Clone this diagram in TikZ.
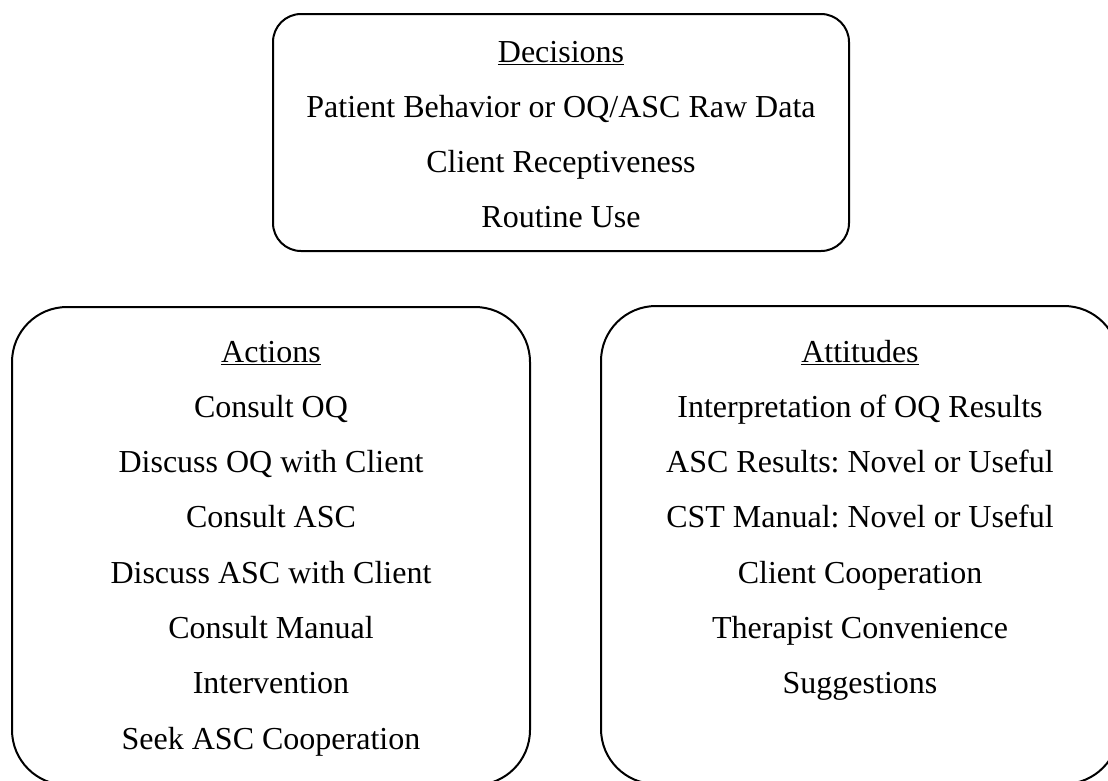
\documentclass[tikz,border=0pt]{standalone}
\usepackage{fontspec}
\setmainfont{Liberation Serif}
\frenchspacing
\begin{document}
\begin{tikzpicture}[x=1pt,y=-1pt,
  panel/.style={draw, line width=2pt, inner sep=0pt},
  toppanel/.style={panel, rounded corners=28pt, minimum width=576pt, minimum height=237pt},
  lowpanel/.style={panel, rounded corners=55pt, minimum width=518pt, minimum height=478pt},
  entry/.style={anchor=base, inner sep=0pt, font=\fontsize{32}{38}\selectfont}]
\useasboundingbox (0,0) rectangle (1108,780);
\clip (0,0) rectangle (1108,780);

% frames
\node[toppanel] (decbox) at (561,132.5) {};
\node[lowpanel] (actbox) at (271,546) {};
\node[lowpanel] (attbox) at (860,545) {};

% decisions
\node[entry] (dechead) at (561,62) {\underline{Decisions}};
\node[entry] (dec1) at (561,117) {Patient Behavior or OQ/ASC Raw Data};
\node[entry] (dec2) at (561,172) {Client Receptiveness};
\node[entry] (dec3) at (561,227) {Routine Use};

% actions
\node[entry] (acthead) at (271,362) {\underline{Actions}};
\node[entry] (act1) at (271,417.3) {Consult OQ};
\node[entry] (act2) at (271,472.6) {Discuss OQ with Client};
\node[entry] (act3) at (271,527.9) {Consult ASC};
\node[entry] (act4) at (271,583.2) {Discuss ASC with Client};
\node[entry] (act5) at (271,638.5) {Consult Manual};
\node[entry] (act6) at (271,693.8) {Intervention};
\node[entry] (act7) at (271,749.1) {Seek ASC Cooperation};

% attitudes
\node[entry] (atthead) at (860,362) {\underline{Attitudes}};
\node[entry] (att1) at (860,417.3) {Interpretation of OQ Results};
\node[entry] (att2) at (860,472.6) {ASC Results: Novel or Useful};
\node[entry] (att3) at (860,527.9) {CST Manual: Novel or Useful};
\node[entry] (att4) at (860,583.2) {Client Cooperation};
\node[entry] (att5) at (860,638.5) {Therapist Convenience};
\node[entry] (att6) at (860,693.8) {Suggestions};
\end{tikzpicture}
\end{document}
